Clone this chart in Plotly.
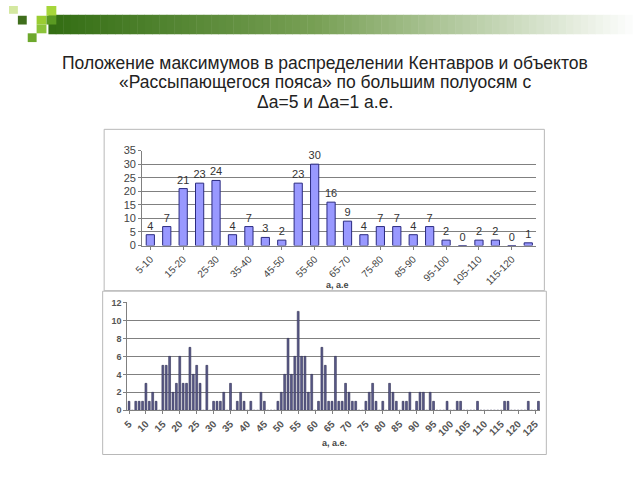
import plotly.graph_objects as go

# ---------------- data ----------------
bin_labels = ["5-10", "10-15", "15-20", "20-25", "25-30", "30-35", "35-40", "40-45",
              "45-50", "50-55", "55-60", "60-65", "65-70", "70-75", "75-80", "80-85",
              "85-90", "90-95", "95-100", "100-105", "105-110", "110-115", "115-120", "120-125"]
bin_counts = [4, 7, 21, 23, 24, 4, 7, 3, 2, 23, 30, 16, 9, 4, 7, 7, 4, 7, 2, 0, 2, 2, 0, 1]

a_values = list(range(5, 127))
a_counts = [1, 0, 1, 1, 1, 3, 1, 2, 1, 0,
            5, 5, 6, 2, 3, 6, 3, 3, 7, 4,
            5, 3, 0, 5, 0, 1, 1, 1, 2, 0,
            3, 0, 1, 2, 1, 0, 1, 0, 0, 2,
            1, 0, 0, 0, 1, 2, 4, 8, 4, 6,
            11, 6, 6, 2, 4, 0, 1, 7, 5, 1,
            1, 6, 1, 1, 3, 2, 1, 1, 0, 0,
            1, 2, 3, 1, 0, 1, 0, 3, 2, 1,
            0, 1, 1, 2, 0, 1, 2, 2, 0, 2,
            1, 0, 0, 0, 1, 0, 0, 1, 1, 0,
            0, 0, 0, 1, 0, 0, 0, 0, 0, 0,
            0, 1, 1, 0, 0, 0, 0, 0, 1, 0,
            0, 1]
bottom_ticks = list(range(5, 126, 5))

title_lines = ["Положение максимумов в распределении Кентавров и объектов",
               "«Рассыпающегося пояса» по большим полуосям с",
               "Δa=5 и Δa=1 а.е."]

W, H = 640, 480
def px(x):
    return x / W
def py(y):
    return 1 - y / H

fig = go.Figure()

fig.add_trace(go.Bar(
    x=bin_labels, y=bin_counts, width=0.5,
    marker=dict(color="#9999ff", line=dict(color="#2a2a80", width=1)),
    text=[str(v) for v in bin_counts], textposition="outside",
    constraintext="none", textangle=0,
    textfont=dict(size=11, color="#333333", family="Liberation Sans"),
    cliponaxis=False, xaxis="x", yaxis="y", showlegend=False))

fig.add_trace(go.Bar(
    x=[str(v) for v in a_values], y=a_counts, width=0.55,
    marker=dict(color="#5c5c8c", line=dict(color="#2e2e50", width=0.6)),
    xaxis="x2", yaxis="y2", showlegend=False))

shapes = []
# slide decoration: gradient bar
x0, x1 = 40, 640
n = 80
c0 = (52, 110, 20)
cm = (120, 160, 85)
c1 = (255, 255, 255)
for i in range(n):
    t = i / (n - 1)
    if t < 0.45:
        u = t / 0.45
        c = tuple(int(c0[k] + (cm[k] - c0[k]) * u) for k in range(3))
    else:
        u = (t - 0.45) / 0.55
        c = tuple(int(cm[k] + (c1[k] - cm[k]) * u) for k in range(3))
    xa = x0 + (x1 - x0) * i / n
    xb = x0 + (x1 - x0) * (i + 1) / n + 0.5
    shapes.append(dict(type="rect", xref="paper", yref="paper",
                       x0=px(xa), x1=px(xb), y0=py(29), y1=py(9),
                       fillcolor="rgb(%d,%d,%d)" % c, line=dict(width=0), layer="below"))
squares = [
    (0, 0, 9, 8, "#d4e8a0"),
    (9, 10, 18, 19, "#3f6e1c"),
    (28, 10, 38, 19, "#9acd32"),
    (38, 0, 48, 10, "#a6d63a"),
    (38, 10, 48, 19, "#5a9a22"),
    (28, 19, 38, 28, "#8cc43a"),
    (19, 28, 28, 37, "#6da82c"),
]
for (a, b, c, d, col) in squares:
    shapes.append(dict(type="rect", xref="paper", yref="paper",
                       x0=px(a), x1=px(c), y0=py(d), y1=py(b),
                       fillcolor=col, line=dict(width=0), layer="below"))
# chart frames
shapes.append(dict(type="rect", xref="paper", yref="paper",
                   x0=px(96.5), x1=px(543), y0=py(292), y1=py(126.5),
                   fillcolor="white", line=dict(color="#b8b8b8", width=1), layer="below"))
shapes.append(dict(type="rect", xref="paper", yref="paper",
                   x0=px(95), x1=px(545), y0=py(460), y1=py(292.5),
                   fillcolor="white", line=dict(color="#b8b8b8", width=1), layer="below"))

annotations = []
for i, line in enumerate(title_lines):
    annotations.append(dict(text=line, xref="paper", yref="paper",
                            x=px(321), y=py(58 + 20 * i), xanchor="center", yanchor="middle",
                            showarrow=False,
                            font=dict(size=17.5, color="#222222", family="Liberation Sans")))
annotations.append(dict(text="<b>a, a.e</b>", xref="paper", yref="paper",
                        x=px(333), y=py(286.5), xanchor="center", yanchor="middle",
                        showarrow=False, font=dict(size=9, color="#444444", family="Liberation Sans")))
annotations.append(dict(text="<b>a, a.e.</b>", xref="paper", yref="paper",
                        x=px(330), y=py(448.5), xanchor="center", yanchor="middle",
                        showarrow=False, font=dict(size=9, color="#444444", family="Liberation Sans")))

fig.update_layout(
    width=W, height=H, margin=dict(l=0, r=0, t=0, b=0),
    paper_bgcolor="white", plot_bgcolor="#c0c0c0",
    bargap=0.5, shapes=shapes, annotations=annotations,
    font=dict(family="Liberation Sans", color="#333333"),
    xaxis=dict(domain=[px(135), px(535)], anchor="y", type="category",
               tickvals=bin_labels[::2], ticktext=bin_labels[::2],
               tickangle=-45, tickfont=dict(size=10, color="#444444"),
               showline=True, linecolor="#808080", ticks="outside", ticklen=3,
               tickcolor="#808080", showgrid=False, fixedrange=True),
    yaxis=dict(domain=[py(245.7), py(148.3)], anchor="x", range=[0, 35], dtick=5,
               tickfont=dict(size=11, color="#444444"), gridcolor="#808080",
               gridwidth=1, zeroline=False, showline=True, linecolor="#808080",
               ticks="outside", ticklen=3, tickcolor="#808080"),
    xaxis2=dict(domain=[px(120), px(538.7)], anchor="y2", type="category",
                tickvals=[str(v) for v in bottom_ticks], ticktext=[str(v) for v in bottom_ticks],
                tickangle=-45, tickfont=dict(size=10, color="#555555", weight="bold"),
                showline=True, linecolor="#808080", ticks="outside", ticklen=3,
                tickcolor="#808080", showgrid=False, fixedrange=True),
    yaxis2=dict(domain=[py(414.7), py(304)], anchor="x2", range=[0, 12], dtick=2,
                tickfont=dict(size=9, color="#555555", weight="bold"), gridcolor="#808080",
                gridwidth=1, zeroline=False, showline=True, linecolor="#808080",
                ticks="outside", ticklen=3, tickcolor="#808080"),
)

fig.write_html("out.html")
